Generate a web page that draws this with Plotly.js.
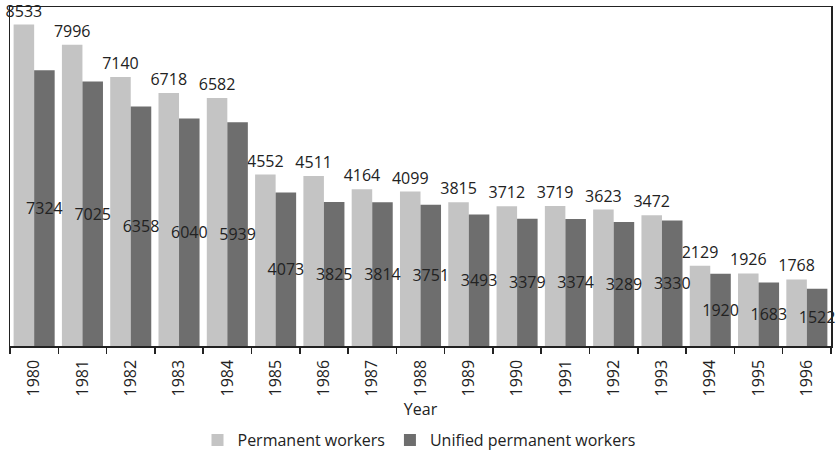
<!DOCTYPE html>
<html>
<head>
<meta charset="utf-8">
<script src="https://cdn.plot.ly/plotly-3.0.1.min.js"></script>
<style>html,body{margin:0;padding:0;background:#fff;}#chart{width:838px;height:457px;}</style>
</head>
<body>
<div id="chart"></div>
<script>
const years = ["1980","1981","1982","1983","1984","1985","1986","1987","1988","1989","1990","1991","1992","1993","1994","1995","1996"];
const permanentWorkers = [8533,7996,7140,6718,6582,4552,4511,4164,4099,3815,3712,3719,3623,3472,2129,1926,1768];
const unifiedPermanentWorkers = [7324,7025,6358,6040,5939,4073,3825,3814,3751,3493,3379,3374,3289,3330,1920,1683,1522];

const FONT = "Open Sans, Noto Sans, sans-serif";

const traces = [
  {
    type: "bar",
    name: "Permanent workers",
    x: years,
    y: permanentWorkers,
    marker: {color: "#c4c4c4"},
    text: permanentWorkers.map(String),
    textposition: "outside",
    textangle: 0,
    constraintext: "none",
    cliponaxis: false,
    outsidetextfont: {family: FONT, size: 16, color: "#222"},
    hoverinfo: "x+y"
  },
  {
    type: "bar",
    name: "Unified permanent workers",
    x: years,
    y: unifiedPermanentWorkers,
    marker: {color: "#6e6e6e"},
    text: unifiedPermanentWorkers.map(String),
    textposition: "inside",
    insidetextanchor: "middle",
    textangle: 0,
    constraintext: "none",
    cliponaxis: false,
    insidetextfont: {family: FONT, size: 16, color: "#222"},
    hoverinfo: "x+y"
  }
];

const layout = {
  width: 838,
  height: 457,
  margin: {l: 10, r: 7, t: 7, b: 111, autoexpand: false},
  paper_bgcolor: "#fff",
  plot_bgcolor: "#fff",
  font: {family: FONT, size: 16, color: "#222"},
  barmode: "group",
  bargap: 0.15,
  bargroupgap: 0,
  showlegend: true,
  legend: {
    orientation: "h",
    x: 0.5, xanchor: "center", xref: "container",
    y: 17 / 457, yanchor: "middle", yref: "container",
    font: {family: FONT, size: 16, color: "#222"},
    itemwidth: 30,
    traceorder: "normal",
    tracegroupgap: 0
  },
  xaxis: {
    type: "category",
    automargin: false,
    showline: true, linecolor: "#222", linewidth: 1.5, mirror: true,
    ticks: "outside", tickson: "boundaries", ticklen: 6, tickcolor: "#222", tickwidth: 1.5,
    tickangle: -90,
    ticklabelstandoff: 6,
    tickfont: {family: FONT, size: 16, color: "#222"},
    title: {text: "Year", font: {family: FONT, size: 16, color: "#222"}},
    showgrid: false, zeroline: false, fixedrange: true
  },
  yaxis: {
    range: [0, 9000],
    automargin: false,
    showline: true, linecolor: "#222", linewidth: 1.5, mirror: true,
    showticklabels: false, ticks: "",
    showgrid: false, zeroline: false, fixedrange: true
  }
};

Plotly.newPlot("chart", traces, layout, {displayModeBar: false, staticPlot: true});
</script>
</body>
</html>
